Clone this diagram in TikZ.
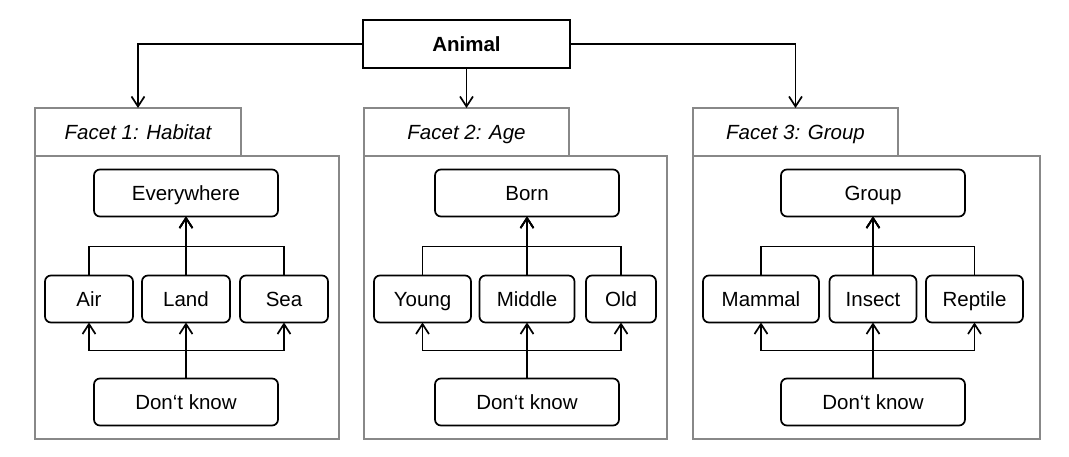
\documentclass[tikz,border=0pt]{standalone}
\usepackage{fontspec}
\setmainfont{Liberation Sans}
\usetikzlibrary{arrows.meta}
\definecolor{facetgray}{RGB}{136,136,136}
\begin{document}
\begin{tikzpicture}[x=1pt,y=-1pt,
  every node/.style={font=\fontsize{20.5}{24}\selectfont, inner sep=0pt, outer sep=0pt,
    text height=14.6pt, text depth=0pt},
  item/.style={draw, rounded corners=6pt, line width=1.7pt, minimum height=47pt},
  root/.style={draw, line width=1.7pt, minimum width=207pt, minimum height=48pt, font=\fontsize{20.5}{24}\selectfont\bfseries},
  facethead/.style={draw=facetgray, line width=1.6pt, minimum width=205pt, minimum height=48pt, font=\fontsize{20.5}{24}\selectfont\itshape},
  facetbody/.style={draw=facetgray, line width=1.6pt, minimum height=283pt},
  link/.style={line width=1.7pt},
  arr/.style={link, -{Straight Barb[length=10pt,width=13pt]}},
]
\useasboundingbox (0,0) rectangle (1069,456);

% root
\node[root] (animal) at (466.5,44) {Animal};

% facet frames
\node[facetbody, minimum width=304pt] (body1) at (187,297.5) {};
\node[facethead, minimum width=206pt] (head1) at (138,132) {Facet 1: Habitat};
\node[facetbody, minimum width=303pt] (body2) at (515.5,297.5) {};
\node[facethead] (head2) at (466.5,132) {Facet 2: Age};
\node[facetbody, minimum width=347pt] (body3) at (866.5,297.5) {};
\node[facethead] (head3) at (795.5,132) {Facet 3: Group};

\draw[arr] (animal.west) -| (head1.north);
\draw[arr] (animal.south) -- (head2.north);
\draw[arr] (animal.east) -| (head3.north);

% facet 1: habitat
\node[item, minimum width=184pt] (every) at (186,193) {Everywhere};
\node[item, minimum width=88pt] (air) at (89,299) {Air};
\node[item, minimum width=88pt] (land) at (186,299) {Land};
\node[item, minimum width=88pt] (sea) at (284,299) {Sea};
\node[item, minimum width=184pt] (dk1) at (186,402) {Don‘t know};
\draw[arr] (air.north) -- ++(0,-29) -| (every.south);
\draw[arr] (sea.north) -- ++(0,-29) -| (every.south);
\draw[arr] (land.north) -- (every.south);
\draw[arr] (dk1.north) -- ++(0,-28) -| (air.south);
\draw[arr] (dk1.north) -- ++(0,-28) -| (sea.south);
\draw[arr] (dk1.north) -- (land.south);

% facet 2: age
\node[item, minimum width=184pt] (born) at (527,193) {Born};
\node[item, minimum width=97pt] (young) at (422.5,299) {Young};
\node[item, minimum width=95pt] (middle) at (527,299) {Middle};
\node[item, minimum width=70pt] (old) at (621,299) {Old};
\node[item, minimum width=184pt] (dk2) at (527,402) {Don‘t know};
\draw[arr] (young.north) -- ++(0,-29) -| (born.south);
\draw[arr] (old.north) -- ++(0,-29) -| (born.south);
\draw[arr] (middle.north) -- (born.south);
\draw[arr] (dk2.north) -- ++(0,-28) -| (young.south);
\draw[arr] (dk2.north) -- ++(0,-28) -| (old.south);
\draw[arr] (dk2.north) -- (middle.south);

% facet 3: group
\node[item, minimum width=184pt] (group) at (873,193) {Group};
\node[item, minimum width=116pt] (mammal) at (761,299) {Mammal};
\node[item, minimum width=87pt] (insect) at (873,299) {Insect};
\node[item, minimum width=97pt] (reptile) at (974.5,299) {Reptile};
\node[item, minimum width=184pt] (dk3) at (873,402) {Don‘t know};
\draw[arr] (mammal.north) -- ++(0,-29) -| (group.south);
\draw[arr] (reptile.north) -- ++(0,-29) -| (group.south);
\draw[arr] (insect.north) -- (group.south);
\draw[arr] (dk3.north) -- ++(0,-28) -| (mammal.south);
\draw[arr] (dk3.north) -- ++(0,-28) -| (reptile.south);
\draw[arr] (dk3.north) -- (insect.south);
\end{tikzpicture}
\end{document}
